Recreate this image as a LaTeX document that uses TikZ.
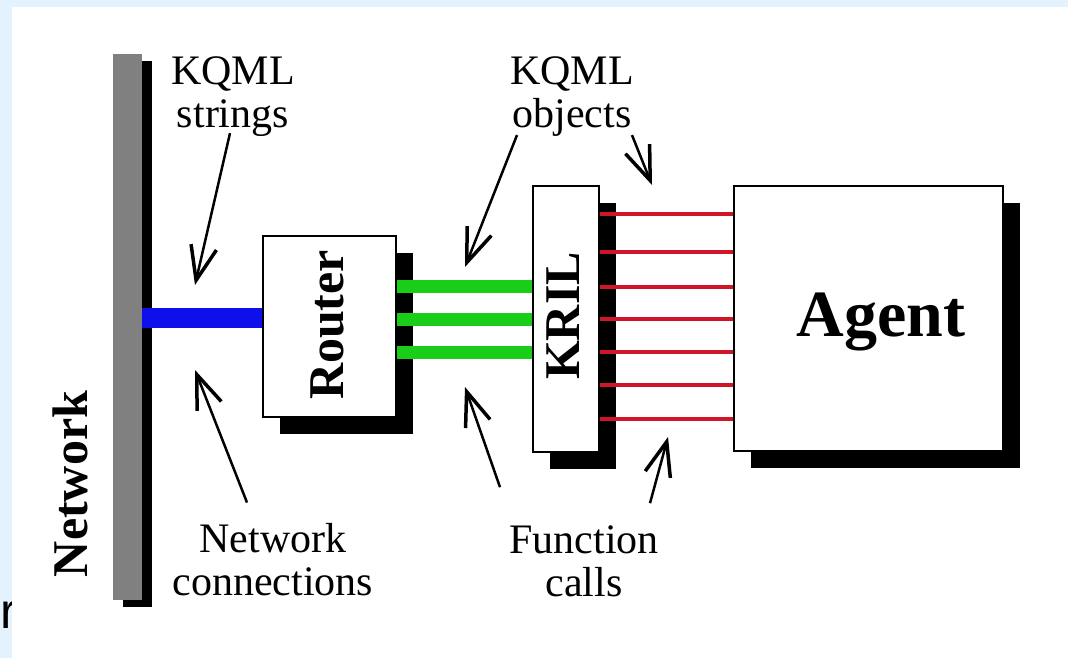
\documentclass[tikz,border=0pt]{standalone}
\usepackage{fontspec}
\setmainfont{Liberation Serif}
\newfontfamily\sansfont{Liberation Sans}
\usetikzlibrary{shadows, arrows.meta}

\definecolor{framebg}{RGB}{227,242,253}
\definecolor{linkblue}{RGB}{15,15,235}
\definecolor{linkgreen}{RGB}{25,205,25}
\definecolor{linkred}{RGB}{210,20,40}

\begin{document}
\begin{tikzpicture}[x=1pt, y=-1pt,
    box/.style={draw, line width=2pt, fill=white, inner sep=0pt,
        drop shadow={shadow xshift=17pt, shadow yshift=-17pt, fill=black, opacity=1}},
    bar/.style={fill=gray, inner sep=0pt,
        drop shadow={shadow xshift=10pt, shadow yshift=-7pt, fill=black, opacity=1}},
    boxtext/.style={font=\bfseries\fontsize{50}{50}\selectfont, inner sep=0pt},
    lbl/.style={font=\fontsize{42}{43}\selectfont, align=center, inner sep=0pt},
    arr/.style={line width=2.5pt, -{Straight Barb[length=34pt, width=26pt, line width=3.5pt]}}]

    % Background
    \useasboundingbox (0,0) rectangle (1068,658);
    \fill[framebg] (0,0) rectangle (1068,658);
    \node[anchor=base west, font=\sansfont\fontsize{50}{50}\selectfont, inner sep=0pt] (cut) at (0,628) {r};
    \fill[white] (12,7) rectangle (1068,658);

    % Network bar
    \node[bar, minimum width=29pt, minimum height=546pt] (net) at (127.5,327) {};
    \node[boxtext, rotate=90] (netlbl) at (70,484) {Network};

    % Boxes
    \node[box, minimum width=133pt, minimum height=181pt] (router) at (329.5,326.5) {};
    \node[box, minimum width=66pt, minimum height=266pt] (kril) at (566,319) {};
    \node[box, minimum width=269pt, minimum height=265pt] (agent) at (868.5,318.5) {};
    \node[boxtext, rotate=90] (routerlbl) at (327,325) {Router};
    \node[boxtext, rotate=90] (krillbl) at (563,316) {KRIL};
    \node[boxtext, font=\bfseries\fontsize{66}{66}\selectfont] (agentlbl) at (881,322) {Agent};

    % Links
    \draw[linkblue, line width=20pt] (net.east |- 0,318) -- (router.west |- 0,318);
    \foreach \y in {286,319,352}
        \draw[linkgreen, line width=13pt] (router.east |- 0,\y) -- (kril.west |- 0,\y);
    \foreach \y in {214,252,287,319,352,385,419}
        \draw[linkred, line width=4.5pt] (kril.east |- 0,\y) -- (agent.west |- 0,\y);

    % Annotations
    \node[lbl] (strlbl) at (233,97) {KQML\\strings};
    \node[lbl] (objlbl) at (572,97) {KQML\\objects};
    \node[lbl] (conlbl) at (273,560) {Network\\connections};
    \node[lbl] (funlbl) at (584,561) {Function\\calls};

    \coordinate (strtip) at (195,285);
    \coordinate (contip) at (195,370);
    \coordinate (objtipa) at (465,267);
    \coordinate (objtipb) at (652,185);
    \coordinate (funtipa) at (465,387);
    \coordinate (funtipb) at (668,437);

    \draw[arr] ([xshift=-3pt,yshift=4pt]strlbl.south) -- (strtip);
    \draw[arr] ([xshift=-26pt,yshift=21pt]conlbl.north) -- (contip);
    \draw[arr] ([xshift=-55pt,yshift=2pt]objlbl.south) -- (objtipa);
    \draw[arr] ([xshift=60pt,yshift=2pt]objlbl.south) -- (objtipb);
    \draw[arr] ([xshift=-84pt,yshift=38pt]funlbl.north) -- (funtipa);
    \draw[arr] ([xshift=66pt,yshift=22pt]funlbl.north) -- (funtipb);
\end{tikzpicture}
\end{document}
